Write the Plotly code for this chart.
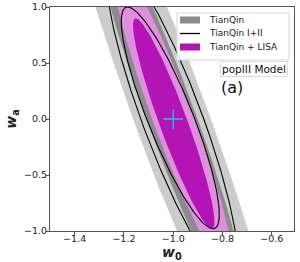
import numpy as np
import plotly.graph_objects as go

# Fiducial point
fid_w0 = [-1.0]
fid_wa = [0.0]

# Confidence contours (sheared ellipses): centre, conditional half-width in w0,
# half-extent in wa, degeneracy slope dw0/dwa
contour_names = ["TianQin 2σ", "TianQin 1σ", "TianQin + LISA 2σ", "TianQin + LISA 1σ",
                 "TianQin I+II 2σ", "TianQin I+II 1σ"]
center_w0 = [-1.005, -1.005, -1.0, -0.998, -1.004, -1.012]
center_wa = [0.0, 0.0, 0.0, -0.04, 0.0, 0.01]
half_width_w0 = [0.158, 0.104, 0.086, 0.060, 0.128, 0.098]
half_height_wa = [2.7, 1.8, 1.38, 0.94, 1.43, 0.99]
slope = [-0.164, -0.164, -0.165, -0.164, -0.164, -0.175]

legend_labels = ["TianQin", "TianQin I+II", "TianQin + LISA"]
legend_colors = ["#8c8c8c", "black", "#b514b5"]
legend_kinds = ["patch", "line", "patch"]

x_ticks = [-1.4, -1.2, -1.0, -0.8, -0.6]
y_ticks = [-1.0, -0.5, 0.0, 0.5, 1.0]

W, H = 300, 262
ML, MR, MT, MB = 50, 6, 7, 31
PW, PH = W - ML - MR, H - MT - MB

t = np.linspace(0, 2 * np.pi, 400)


def ellipse(i):
    wa = center_wa[i] + half_height_wa[i] * np.sin(t)
    w0 = center_w0[i] + slope[i] * (wa - center_wa[i]) + half_width_w0[i] * np.cos(t)
    return w0, wa


def px(x):
    return (x - ML) / PW


def py(y):
    return 1 - (y - MT) / PH


fig = go.Figure()

styles = [
    dict(fill="toself", fillcolor="#cccccc", line=dict(width=0)),
    dict(fill="toself", fillcolor="#8c8c8c", line=dict(width=0)),
    dict(fill="toself", fillcolor="#de90de", line=dict(width=0)),
    dict(fill="toself", fillcolor="#b514b5", line=dict(width=0)),
    dict(line=dict(color="black", width=1.1)),
    dict(line=dict(color="black", width=1.1)),
]

for i, st in enumerate(styles):
    x, y = ellipse(i)
    fig.add_trace(go.Scatter(x=x, y=y, mode="lines", hoverinfo="skip",
                             name=contour_names[i], showlegend=False, **st))

fig.add_trace(go.Scatter(x=fid_w0, y=fid_wa, mode="markers", showlegend=False,
                         name="fiducial",
                         marker=dict(symbol="cross-thin", size=14,
                                     line=dict(color="#1fc8d8", width=1.3))))

axis_common = dict(showline=True, linecolor="#555555", linewidth=1, mirror=True,
                   ticks="outside", ticklen=3, tickcolor="#555555", showgrid=False,
                   zeroline=False, automargin=False,
                   tickfont=dict(family="DejaVu Sans", size=9.5, color="#222"))

fig.update_xaxes(range=[-1.5, -0.51], tickvals=x_ticks, tickformat=".1f",
                 ticklabelstandoff=-4,
                 title=dict(text="<b><i>w</i><sub>0</sub></b>", standoff=0,
                            font=dict(family="DejaVu Sans", size=14, color="#222")),
                 **axis_common)
fig.update_yaxes(range=[-1.0, 1.0], tickvals=y_ticks, tickformat=".1f",
                 ticklabelstandoff=-3,
                 title=dict(text="<b><i>w</i><sub>a</sub></b>", standoff=4,
                            font=dict(family="DejaVu Sans", size=14, color="#222")),
                 **axis_common)

# Legend box (drawn manually to match compact matplotlib legend)
shapes = [dict(type="rect", xref="paper", yref="paper",
               x0=px(177), x1=px(289), y0=py(60), y1=py(13),
               line=dict(color="#d8d8d8", width=1), fillcolor="rgba(255,255,255,0.85)",
               layer="above")]
annotations = []
for k, (lab, col, kind) in enumerate(zip(legend_labels, legend_colors, legend_kinds)):
    yc = 20 + 13.5 * k
    if kind == "patch":
        shapes.append(dict(type="rect", xref="paper", yref="paper",
                           x0=px(180), x1=px(200), y0=py(yc + 3.5), y1=py(yc - 3.5),
                           line=dict(width=0), fillcolor=col, layer="above"))
    else:
        shapes.append(dict(type="line", xref="paper", yref="paper",
                           x0=px(180), x1=px(200), y0=py(yc), y1=py(yc),
                           line=dict(color=col, width=1.3), layer="above"))
    annotations.append(dict(x=px(207), y=py(yc), xref="paper", yref="paper", text=lab,
                            xanchor="left", yanchor="middle", showarrow=False,
                            font=dict(family="DejaVu Sans", size=9, color="#222")))

annotations += [
    dict(x=px(253.5), y=py(69), xref="paper", yref="paper", text="popIII Model",
         xanchor="center", yanchor="middle",
         showarrow=False, font=dict(family="DejaVu Sans", size=10.5, color="#111"),
         bgcolor="white", bordercolor="#dddddd", borderwidth=1, borderpad=1),
    dict(x=px(219), y=py(88), xref="paper", yref="paper", text="(a)", xanchor="left",
         yanchor="middle", showarrow=False,
         font=dict(family="DejaVu Sans", size=16, color="#111")),
]

fig.update_layout(
    width=W, height=H,
    margin=dict(l=ML, r=MR, t=MT, b=MB),
    plot_bgcolor="white", paper_bgcolor="white",
    showlegend=False,
    shapes=shapes,
    annotations=annotations,
)

fig.write_html("out.html", config={"displayModeBar": False},
               post_script="document.body.style.margin='0';document.body.style.overflow='hidden';")
